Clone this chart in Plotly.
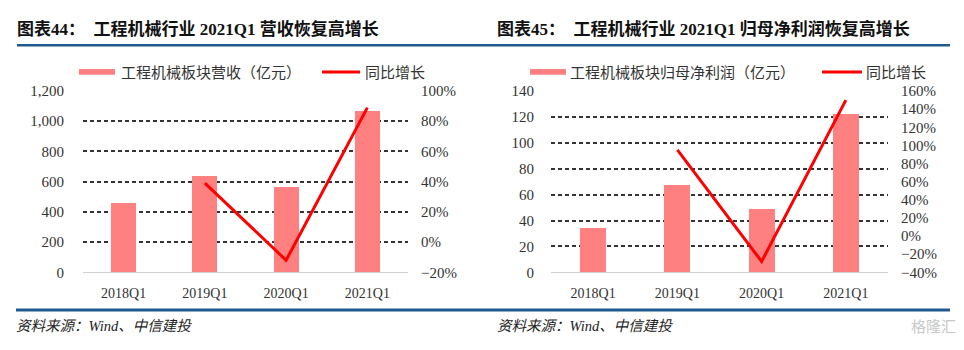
import plotly.graph_objects as go

# ---- data ----
quarters = ["2018Q1", "2019Q1", "2020Q1", "2021Q1"]
revenue = [459, 640, 564, 1069]          # 工程机械板块营收（亿元）
revenue_yoy = [39, -12, 89]              # 同比增长 (%), 2019Q1..2021Q1
profit = [34.6, 67.3, 49.1, 122.5]       # 工程机械板块归母净利润（亿元）
profit_yoy = [95, -28, 150]              # 同比增长 (%), 2019Q1..2021Q1

left_title = "图表44：  工程机械行业 2021Q1 营收恢复高增长"
right_title = "图表45：  工程机械行业 2021Q1 归母净利润恢复高增长"
left_bar_name = "工程机械板块营收（亿元）"
right_bar_name = "工程机械板块归母净利润（亿元）"
line_name = "同比增长"
source_text = "资料来源：Wind、中信建投"

W, H = 964, 350
BAR_COLOR = "#FF8080"
LINE_COLOR = "#FF0000"
BLUE = "#1f5a8f"
GRID = "#333333"
TXT = "#333333"
SERIF = "Liberation Serif, Times New Roman, serif"
CJK = "Noto Sans CJK SC, sans-serif"


def px_x(x):
    return x / W


def px_y(y):
    return 1 - y / H


fig = go.Figure()

fig.add_trace(go.Bar(x=quarters, y=revenue, name=left_bar_name, xaxis="x", yaxis="y",
                     marker=dict(color=BAR_COLOR, line=dict(width=0)), width=0.31))
fig.add_trace(go.Scatter(x=quarters[1:], y=revenue_yoy, name=line_name, xaxis="x", yaxis="y2",
                         mode="lines", line=dict(color=LINE_COLOR, width=3)))
fig.add_trace(go.Bar(x=quarters, y=profit, name=right_bar_name, xaxis="x2", yaxis="y3",
                     marker=dict(color=BAR_COLOR, line=dict(width=0)), width=0.31))
fig.add_trace(go.Scatter(x=quarters[1:], y=profit_yoy, name=line_name, xaxis="x2", yaxis="y4",
                         mode="lines", line=dict(color=LINE_COLOR, width=3)))

ydom = [px_y(277), px_y(87)]
tick_font = dict(family=SERIF, size=15, color=TXT)
x_font = dict(family=SERIF, size=14, color=TXT)

xcommon = dict(type="category", showline=True, linecolor="#d0d0d0", linewidth=1,
               ticks="", showgrid=False, zeroline=False, tickfont=x_font,
               ticklabelstandoff=8, fixedrange=True)
ygrid = dict(showgrid=True, gridcolor=GRID, gridwidth=1.5, griddash="4px,3px",
             zeroline=False, ticks="", tickfont=tick_font, showline=False, fixedrange=True)
yright = dict(showgrid=False, zeroline=False, ticks="", tickfont=tick_font,
              side="right", ticksuffix="%", showline=False, fixedrange=True)

fig.update_layout(
    width=W, height=H, autosize=False,
    margin=dict(l=0, r=0, t=0, b=0),
    paper_bgcolor="white", plot_bgcolor="white",
    showlegend=False, bargap=0,
    xaxis=dict(domain=[px_x(83), px_x(408)], anchor="y", **xcommon),
    yaxis=dict(domain=ydom, anchor="x", range=[0, 1200], dtick=200, tickformat=",",
               ticklabelstandoff=18, **ygrid),
    yaxis2=dict(overlaying="y", anchor="x", range=[-20, 100], dtick=20,
                ticklabelstandoff=12, **yright),
    xaxis2=dict(domain=[px_x(551), px_x(888)], anchor="y3", **xcommon),
    yaxis3=dict(domain=ydom, anchor="x2", range=[0, 140], dtick=20,
                ticklabelstandoff=16, **ygrid),
    yaxis4=dict(overlaying="y3", anchor="x2", range=[-40, 160], dtick=20,
                ticklabelstandoff=12, **yright),
)

shapes = [
    # header and footer rules
    dict(type="line", xref="paper", yref="paper", x0=px_x(17), x1=px_x(950),
         y0=px_y(39), y1=px_y(39), line=dict(color=BLUE, width=2.5)),
    dict(type="line", xref="paper", yref="paper", x0=px_x(16), x1=px_x(950),
         y0=px_y(316.5), y1=px_y(316.5), line=dict(color=BLUE, width=3)),
    # legend swatches
    dict(type="rect", xref="paper", yref="paper", x0=px_x(79), x1=px_x(115),
         y0=px_y(70), y1=px_y(64), fillcolor=BAR_COLOR, line=dict(width=0)),
    dict(type="line", xref="paper", yref="paper", x0=px_x(322), x1=px_x(360),
         y0=px_y(67), y1=px_y(67), line=dict(color=LINE_COLOR, width=3)),
    dict(type="rect", xref="paper", yref="paper", x0=px_x(530), x1=px_x(566),
         y0=px_y(70), y1=px_y(64), fillcolor=BAR_COLOR, line=dict(width=0)),
    dict(type="line", xref="paper", yref="paper", x0=px_x(822), x1=px_x(862),
         y0=px_y(67), y1=px_y(67), line=dict(color=LINE_COLOR, width=3)),
]
fig.update_layout(shapes=shapes)

title_font = dict(family="Liberation Serif, Noto Sans CJK SC", size=17, color="#111111")
legend_font = dict(family=CJK, size=15, color=TXT)
source_font = dict(family="Liberation Serif, Noto Sans CJK SC", size=14.5, color="#222222")


def note(text, x, y, font, xanchor="left"):
    fig.add_annotation(text=text, x=px_x(x), y=px_y(y), xref="paper", yref="paper",
                       xanchor=xanchor, yanchor="middle", showarrow=False, font=font)


note(f"<b>{left_title}</b>", 15, 22, title_font)
note(f"<b>{right_title}</b>", 495, 22, title_font)
note(left_bar_name, 119, 67, legend_font)
note(line_name, 363, 67, legend_font)
note(right_bar_name, 568, 67, legend_font)
note(line_name, 864, 67, legend_font)
note(f"<i>{source_text}</i>", 14, 333, source_font)
note(f"<i>{source_text}</i>", 495, 333, source_font)
note("格隆汇", 958, 333, dict(family=CJK, size=15, color="#c8c8c8"), xanchor="right")

fig.write_html("out.html")
